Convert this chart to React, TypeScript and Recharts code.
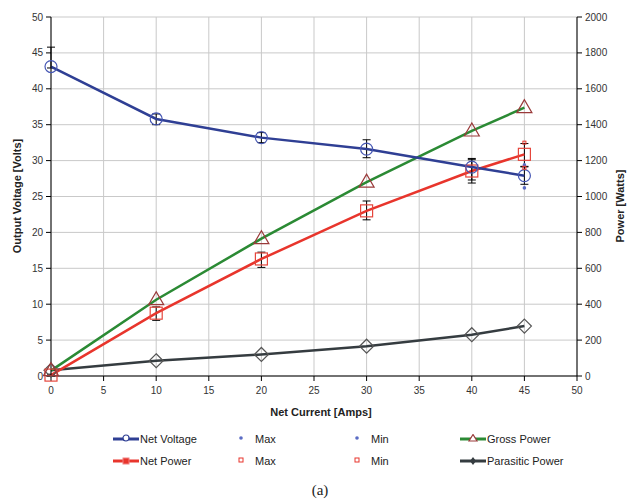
import React from 'react';
import { ComposedChart, Line, XAxis, YAxis, CartesianGrid, ErrorBar } from 'recharts';

// Net current [Amps]
const current = [0, 10, 20, 30, 40, 45];
// left axis [Volts]
const netVoltage = [43.1, 35.8, 33.2, 31.6, 29.1, 27.9];
const voltageHigh = [45.8, 36.5, 33.9, 32.9, 30.3, 29.2];
const voltageLow = [42.9, 35.0, 32.5, 30.4, 27.3, 26.7];
// scattered max / min readings (only visible at the last point)
const voltageMax = [null, null, null, null, null, 29.4];
const voltageMin = [null, null, null, null, null, 26.2];
// right axis [Watts]
const grossPower = [30, 425, 765, 1080, 1365, 1495];
const netPower = [5, 350, 652, 920, 1142, 1235];
const netPowerHigh = [10, 385, 690, 975, 1205, 1295];
const netPowerLow = [0, 310, 605, 870, 1075, 1165];
const netPowerMax = [null, null, null, null, null, 1300];
const netPowerMin = [null, null, null, null, null, 1160];
const parasiticPower = [32, 85, 120, 166, 230, 278];

const xTicks = [0, 5, 10, 15, 20, 25, 30, 35, 40, 45, 50];
const voltTicks = [0, 5, 10, 15, 20, 25, 30, 35, 40, 45, 50];
const wattTicks = [0, 200, 400, 600, 800, 1000, 1200, 1400, 1600, 1800, 2000];

const rows = current.map((c, i) => ({
  current: c,
  netVoltage: netVoltage[i],
  voltageMax: voltageMax[i],
  voltageMin: voltageMin[i],
  voltErr: [netVoltage[i] - voltageLow[i], voltageHigh[i] - netVoltage[i]],
  grossPower: grossPower[i],
  netPower: netPower[i],
  netPowerMax: netPowerMax[i],
  netPowerMin: netPowerMin[i],
  powerErr: [netPower[i] - netPowerLow[i], netPowerHigh[i] - netPower[i]],
  parasiticPower: parasiticPower[i],
}));

const BLUE = '#2f3f94';
const GREEN = '#2b8a34';
const RED = '#e8352c';
const DARK = '#353c40';

const tickStyle = { fontSize: 10, fill: '#333', fontFamily: '"Liberation Sans", Arial, sans-serif' };

const circleDot = (p: any) => (
  <circle key={`c${p.index}`} cx={p.cx} cy={p.cy} r={6} fill="none" stroke="#4657b4" strokeWidth={1.2} />
);
const triangleDot = (p: any) => (
  <polygon
    key={`t${p.index}`}
    points={`${p.cx},${p.cy - 8} ${p.cx - 7.5},${p.cy + 5} ${p.cx + 7.5},${p.cy + 5}`}
    fill="none"
    stroke="#9a3a3a"
    strokeWidth={1.2}
  />
);
const squareDot = (p: any) => (
  <rect key={`s${p.index}`} x={p.cx - 6} y={p.cy - 6} width={12} height={12} fill="none" stroke="#e5463c" strokeWidth={1.2} />
);
const diamondDot = (p: any) => (
  <polygon
    key={`d${p.index}`}
    points={`${p.cx},${p.cy - 7} ${p.cx + 7},${p.cy} ${p.cx},${p.cy + 7} ${p.cx - 7},${p.cy}`}
    fill="none"
    stroke="#555"
    strokeWidth={1.2}
  />
);
const smallBlueDot = (p: any) =>
  p.value == null ? <g key={`b${p.index}`} /> : <circle key={`b${p.index}`} cx={p.cx} cy={p.cy} r={1.8} fill="#5a6cc4" />;
const smallRedSquare = (p: any) =>
  p.value == null ? (
    <g key={`r${p.index}`} />
  ) : (
    <rect key={`r${p.index}`} x={p.cx - 1.5} y={p.cy - 1.5} width={3} height={3} fill="none" stroke={RED} strokeWidth={1} />
  );

function LegendIcon({ color, marker }: { color: string; marker: string }) {
  return (
    <svg width={26} height={10} style={{ display: 'block' }}>
      <line x1={0} y1={5} x2={26} y2={5} stroke={color} strokeWidth={3} />
      {marker === 'circle' && <circle cx={13} cy={4} r={3} fill="#fff" stroke={color} strokeWidth={1.2} />}
      {marker === 'square' && <rect x={10} y={2} width={6} height={6} fill={color} stroke="#f08080" strokeWidth={1} />}
      {marker === 'triangle' && <polygon points="13,0.5 9,7 17,7" fill="#fff" stroke="#9a3a3a" strokeWidth={1.2} />}
      {marker === 'diamond' && <polygon points="13,1 16,5 13,9 10,5" fill={color} />}
    </svg>
  );
}

const legendItems = [
  { x: 113, y: 439, label: 'Net Voltage', icon: <LegendIcon color={BLUE} marker="circle" /> },
  { x: 229, y: 439, label: 'Max', icon: <svg width={26} height={10}><circle cx={12} cy={4} r={1.8} fill="#5a6cc4" /></svg> },
  { x: 345, y: 439, label: 'Min', icon: <svg width={26} height={10}><circle cx={12} cy={4} r={1.8} fill="#5a6cc4" /></svg> },
  { x: 460, y: 439, label: 'Gross Power', icon: <LegendIcon color={GREEN} marker="triangle" /> },
  { x: 113, y: 461, label: 'Net Power', icon: <LegendIcon color={RED} marker="square" /> },
  { x: 229, y: 461, label: 'Max', icon: <svg width={26} height={10}><rect x={10} y={2} width={4} height={4} fill="none" stroke={RED} /></svg> },
  { x: 345, y: 461, label: 'Min', icon: <svg width={26} height={10}><rect x={10} y={2} width={4} height={4} fill="none" stroke={RED} /></svg> },
  { x: 460, y: 461, label: 'Parasitic Power', icon: <LegendIcon color={DARK} marker="diamond" /> },
];

export default function App() {
  return (
    <div
      style={{
        position: 'absolute',
        left: 0,
        top: 0,
        width: 627,
        height: 499,
        background: '#fff',
        fontFamily: '"Liberation Sans", Arial, sans-serif',
        color: '#222',
      }}
    >
      <ComposedChart width={627} height={499} data={rows} margin={{ top: 17, right: 0, bottom: 93, left: 0 }}>
        <CartesianGrid stroke="#c9c9c9" yAxisId="volts" />
        <XAxis
          dataKey="current"
          type="number"
          domain={[0, 50]}
          ticks={xTicks}
          height={30}
          stroke="#000"
          tickSize={5}
          tickMargin={6}
          tick={tickStyle}
        />
        <YAxis
          yAxisId="volts"
          domain={[0, 50]}
          ticks={voltTicks}
          width={51}
          stroke="#000"
          tickSize={5}
          tickMargin={3}
          tick={tickStyle}
          interval={0}
        />
        <YAxis
          yAxisId="watts"
          orientation="right"
          domain={[0, 2000]}
          ticks={wattTicks}
          width={50}
          stroke="#000"
          tickSize={5}
          tickMargin={3}
          tick={tickStyle}
          interval={0}
        />
        <Line
          yAxisId="watts"
          dataKey="parasiticPower"
          type="linear"
          stroke={DARK}
          strokeWidth={2.5}
          dot={diamondDot}
          activeDot={false}
          isAnimationActive={false}
        />
        <Line
          yAxisId="watts"
          dataKey="netPower"
          type="linear"
          stroke={RED}
          strokeWidth={2.5}
          dot={squareDot}
          activeDot={false}
          isAnimationActive={false}
        >
          <ErrorBar dataKey="powerErr" direction="y" width={4} stroke="#000" strokeWidth={1} />
        </Line>
        <Line
          yAxisId="watts"
          dataKey="grossPower"
          type="linear"
          stroke={GREEN}
          strokeWidth={2.5}
          dot={triangleDot}
          activeDot={false}
          isAnimationActive={false}
        />
        <Line
          yAxisId="volts"
          dataKey="netVoltage"
          type="linear"
          stroke={BLUE}
          strokeWidth={2.5}
          dot={circleDot}
          activeDot={false}
          isAnimationActive={false}
        >
          <ErrorBar dataKey="voltErr" direction="y" width={4} stroke="#000" strokeWidth={1} />
        </Line>
        <Line yAxisId="volts" dataKey="voltageMax" stroke="none" dot={smallBlueDot} activeDot={false} isAnimationActive={false} />
        <Line yAxisId="volts" dataKey="voltageMin" stroke="none" dot={smallBlueDot} activeDot={false} isAnimationActive={false} />
        <Line yAxisId="watts" dataKey="netPowerMax" stroke="none" dot={smallRedSquare} activeDot={false} isAnimationActive={false} />
        <Line yAxisId="watts" dataKey="netPowerMin" stroke="none" dot={smallRedSquare} activeDot={false} isAnimationActive={false} />
      </ComposedChart>

      <div
        style={{
          position: 'absolute',
          left: 17,
          top: 196,
          transform: 'translate(-50%, -50%) rotate(-90deg)',
          whiteSpace: 'nowrap',
          fontSize: 11,
          fontWeight: 'bold',
        }}
      >
        Output Voltage [Volts]
      </div>
      <div
        style={{
          position: 'absolute',
          left: 620,
          top: 206,
          transform: 'translate(-50%, -50%) rotate(-90deg)',
          whiteSpace: 'nowrap',
          fontSize: 11,
          fontWeight: 'bold',
        }}
      >
        Power [Watts]
      </div>
      <div
        style={{
          position: 'absolute',
          left: 321,
          top: 412,
          transform: 'translate(-50%, -50%)',
          whiteSpace: 'nowrap',
          fontSize: 11,
          fontWeight: 'bold',
        }}
      >
        Net Current [Amps]
      </div>

      {legendItems.map((it, i) => (
        <div
          key={i}
          style={{
            position: 'absolute',
            left: it.x,
            top: it.y - 7,
            height: 14,
            display: 'flex',
            alignItems: 'center',
            fontSize: 11,
            whiteSpace: 'nowrap',
          }}
        >
          {it.icon}
          <span style={{ marginLeft: it.label === 'Max' || it.label === 'Min' ? 0 : 1 }}>{it.label}</span>
        </div>
      ))}

      <div
        style={{
          position: 'absolute',
          left: 320,
          top: 490,
          transform: 'translate(-50%, -50%)',
          fontFamily: '"Liberation Serif", "Times New Roman", serif',
          fontSize: 15,
        }}
      >
        (a)
      </div>
    </div>
  );
}
